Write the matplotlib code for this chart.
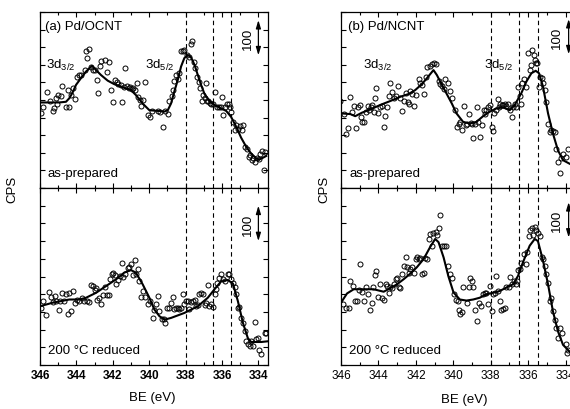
import matplotlib
matplotlib.use('Agg')
import matplotlib.pyplot as plt
from matplotlib.ticker import MultipleLocator

plt.rcParams['font.family'] = ['Liberation Sans', 'DejaVu Sans']
plt.rcParams['mathtext.fontset'] = 'custom'
plt.rcParams['mathtext.rm'] = 'Liberation Sans'
plt.rcParams['mathtext.it'] = 'Liberation Sans:italic'
plt.rcParams['mathtext.bf'] = 'Liberation Sans:bold'

### Pd 3d spectra, binding energy (eV) vs counts, open circles = raw data, line = fit

### (a) Pd/OCNT, as-prepared
ocnt_prep_be = [345.93, 345.82, 345.63, 345.45, 345.30, 345.21, 345.12, 345.01, 345.05, 344.86,
                344.77, 344.57, 344.42, 344.46, 344.32, 344.21, 344.10, 343.99, 343.88, 343.77,
                343.55, 343.47, 343.40, 343.29, 343.22, 343.07, 343.00, 342.89, 342.79, 342.70,
                342.63, 342.43, 342.30, 342.23, 342.12, 342.01, 341.90, 341.79, 341.71, 341.57,
                341.49, 341.40, 341.33, 341.24, 341.13, 341.05, 340.95, 340.87, 340.76, 340.69,
                340.62, 340.51, 340.43, 340.32, 340.23, 340.09, 339.96, 339.85,
                339.50, 339.39, 339.26, 339.13, 338.98, 338.89, 338.76, 338.69, 338.62, 338.54,
                338.43, 338.36, 338.25, 338.14, 338.07, 337.92, 337.84, 337.73, 337.64, 337.55,
                337.46, 337.37, 337.29, 337.20, 337.11, 337.04, 336.96, 336.89, 336.85, 336.76,
                336.67, 336.58, 336.49, 336.41, 336.30, 336.19, 336.08, 336.01, 335.94, 335.83,
                335.75, 335.64, 335.57, 335.50, 335.39, 335.31, 335.22, 335.13, 335.02, 334.91,
                334.84, 334.73, 334.63, 334.54, 334.45, 334.36, 334.27, 334.18, 334.08, 333.99,
                333.90, 333.81, 333.70, 333.62]
ocnt_prep_cps = [214, 231, 273, 248, 219, 227, 257, 263, 238, 261,
                 290, 229, 229, 277, 263, 285, 253, 316, 320, 322,
                 335, 389, 368, 395, 343, 335, 335, 307, 271, 347,
                 361, 364, 330, 359, 277, 243, 306, 301, 296, 292,
                 243, 288, 340, 290, 285, 286, 280, 284, 277, 298,
                 259, 251, 233, 250, 302, 207, 202, 219,
                 219, 217, 174, 219, 210, 248, 261, 278, 305, 321,
                 309, 328, 390, 388, 392, 378, 371, 409, 418, 359,
                 340, 316, 301, 283, 248, 263, 257, 299, 247, 248,
                 242, 240, 238, 274, 231, 231, 229, 259, 207, 231,
                 238, 240, 231, 217, 188, 164, 179, 169, 177, 164,
                 179, 117, 112, 88, 93, 79, 84, 73, 86, 83,
                 98, 105, 50, 102]
ocnt_prep_fit_be = [346.00, 345.49, 344.94, 344.57, 344.39, 344.21, 344.02, 343.75, 343.47, 343.14,
                    342.92, 342.65, 342.28, 341.92, 341.46, 341.00, 340.73, 340.36, 339.99, 339.53,
                    339.17, 338.98, 338.80, 338.62, 338.43, 338.25, 338.07, 337.88, 337.70, 337.51,
                    337.33, 337.15, 336.96, 336.69, 336.41, 336.05, 335.77, 335.50, 335.22, 334.95,
                    334.67, 334.40, 334.12, 333.94, 333.75, 333.57]
ocnt_prep_fit_cps = [243, 243, 243, 245, 255, 271, 293, 312, 331, 347,
                     335, 321, 305, 295, 286, 278, 264, 240, 221, 219,
                     217, 221, 240, 274, 307, 345, 369, 378, 371, 350,
                     321, 293, 267, 247, 236, 226, 219, 202, 174, 143,
                     117, 98, 84, 81, 86, 91]

### (a) Pd/OCNT, 200 C reduced
ocnt_red_be = [345.96, 345.82, 345.67, 345.49, 345.40, 345.30, 345.19, 345.12, 344.97, 344.90,
               344.79, 344.68, 344.57, 344.46, 344.32, 344.42, 344.21, 344.06, 343.95, 343.84,
               343.69, 343.56, 343.44, 343.29, 343.20, 343.11, 343.00, 342.92, 342.85, 342.74,
               342.67, 342.56, 342.45, 342.34, 342.23, 342.15, 342.04, 341.97, 341.90, 341.82,
               341.71, 341.60, 341.49, 341.42, 341.31, 341.16, 341.09, 340.98, 340.91, 340.80,
               340.73, 340.62, 340.54, 340.43, 340.36, 340.25, 340.07, 339.96, 339.77,
               339.72, 339.62, 339.53, 339.44, 339.31, 339.20, 339.13, 339.02, 338.89, 338.80,
               338.71, 338.62, 338.52, 338.43, 338.34, 338.25, 338.14, 338.07, 337.99, 337.88,
               337.79, 337.70, 337.61, 337.51, 337.42, 337.33, 337.24, 337.15, 337.06, 336.96,
               336.87, 336.78, 336.69, 336.60, 336.52, 336.41, 336.34, 336.27, 336.16, 336.05,
               335.94, 335.83, 335.68, 335.59, 335.50, 335.40, 335.31, 335.22, 335.13, 335.04,
               334.95, 334.85, 334.76, 334.67, 334.58, 334.47, 334.40, 334.30, 334.21, 334.12,
               334.03, 333.94, 333.84, 333.66, 333.57]
ocnt_red_cps = [160, 182, 140, 207, 192, 179, 195, 181, 154, 181,
                204, 181, 200, 143, 152, 204, 209, 176, 185, 181,
                190, 181, 181, 179, 226, 223, 211, 217, 185, 190,
                171, 197, 219, 197, 198, 242, 258, 261, 255, 230,
                239, 252, 287, 249, 257, 274, 277, 285, 255, 296,
                257, 270, 236, 192, 209, 192, 171, 181, 133,
                154, 171, 195, 152, 131, 131, 119, 162, 160, 176,
                192, 157, 162, 162, 157, 162, 201, 173, 181, 182,
                157, 179, 182, 185, 166, 169, 200, 204, 201, 169,
                176, 226, 166, 173, 163, 200, 214, 232, 245, 257,
                242, 236, 258, 258, 242, 233, 219, 201, 162, 163,
                133, 119, 95, 67, 59, 55, 67, 55, 122, 74,
                76, 43, 30, 90, 90]
ocnt_red_fit_be = [346.00, 345.30, 344.39, 343.84, 343.47, 342.92, 342.37, 341.82, 341.37, 341.00,
                   340.73, 340.36, 339.99, 339.72, 339.44, 339.17, 338.80, 338.07, 337.33, 336.78,
                   336.41, 336.05, 335.68, 335.40, 335.13, 334.85, 334.58, 334.40, 333.84, 333.48]
ocnt_red_fit_cps = [166, 176, 185, 185, 190, 204, 223, 242, 261, 268,
                    261, 228, 190, 157, 138, 128, 133, 147, 166, 190,
                    214, 236, 240, 230, 181, 119, 76, 65, 65, 67]

### (b) Pd/NCNT, as-prepared
ncnt_prep_be = [346.07, 345.82, 345.72, 345.61, 345.50, 345.40, 345.29, 345.22, 345.11, 345.00,
                344.93, 344.86, 344.76, 344.68, 344.58, 344.51, 344.40, 344.33, 344.26, 344.19,
                344.12, 344.01, 343.90, 343.80, 343.72, 343.65, 343.55, 343.44, 343.37, 343.26,
                343.16, 343.05, 342.94, 342.84, 342.73, 342.66, 342.55, 342.44, 342.37, 342.30,
                342.20, 342.09, 341.98, 341.86, 341.77, 341.66, 341.56, 341.48, 341.38, 341.24,
                341.13, 341.02, 340.92, 340.79, 340.70, 340.60, 340.49, 340.42, 340.31, 340.20,
                340.08, 339.92,
                339.80, 339.69, 339.62, 339.51, 339.44, 339.33, 339.26, 339.16, 339.08, 339.01,
                338.94, 338.85, 338.76, 338.68, 338.55, 338.45, 338.37, 338.30, 338.23, 338.14,
                338.05, 337.96, 337.88, 337.81, 337.70, 337.61, 337.56, 337.49, 337.41, 337.34,
                337.25, 337.16, 337.08, 336.99, 336.88, 336.81, 336.70, 336.63, 336.54, 336.45,
                336.36, 336.31, 336.24, 336.13, 336.03, 335.92, 335.83, 335.78, 335.71, 335.64,
                335.60, 335.53, 335.42, 335.35, 335.28, 335.21, 335.12, 335.03, 334.94, 334.85,
                334.76, 334.70, 334.59, 334.50, 334.39, 334.32, 334.23, 334.14, 333.96, 333.86]
ncnt_prep_cps = [248, 210, 153, 170, 259, 216, 234, 171, 231, 237,
                 202, 188, 188, 216, 233, 221, 229, 236, 216, 255,
                 283, 214, 231, 233, 174, 204, 231, 261, 299, 274,
                 255, 261, 290, 255, 219, 248, 271, 244, 240, 276,
                 267, 233, 264, 309, 299, 292, 267, 316, 343, 347,
                 352, 356, 352, 305, 295, 290, 282, 311, 299, 276,
                 257, 223,
                 174, 181, 188, 166, 233, 179, 181, 210, 185, 183,
                 141, 183, 231, 188, 145, 179, 221, 210, 221, 231,
                 236, 172, 162, 214, 221, 252, 229, 240, 236, 236,
                 240, 233, 240, 223, 202, 231, 240, 231, 288, 261,
                 240, 299, 309, 286, 383, 335, 350, 392, 378, 364,
                 354, 354, 286, 316, 312, 299, 278, 245, 183, 160,
                 164, 162, 160, 112, 74, 43, 84, 96, 88, 112]
ncnt_prep_fit_be = [346.00, 345.50, 345.24, 344.88, 344.44, 343.90, 343.37, 342.84, 342.39, 342.04,
                    341.68, 341.41, 341.06, 340.88, 340.61, 340.35, 340.08, 339.83, 339.48, 339.12,
                    338.76, 338.41, 338.05, 337.70, 337.34, 336.99, 336.72, 336.37, 336.10, 335.83,
                    335.60, 335.42, 335.21, 334.94, 334.68, 334.41, 334.14, 333.79]
ncnt_prep_fit_cps = [212, 210, 204, 214, 223, 236, 247, 259, 267, 278,
                     295, 312, 335, 321, 293, 267, 240, 212, 188, 183,
                     188, 204, 217, 226, 229, 221, 236, 269, 302, 326,
                     333, 326, 288, 212, 155, 107, 79, 69]

### (b) Pd/NCNT, 200 C reduced
ncnt_red_be = [345.89, 345.72, 345.59, 345.50, 345.36, 345.24, 345.15, 345.04, 344.97, 344.88,
               344.79, 344.68, 344.58, 344.47, 344.36, 344.29, 344.19, 344.12, 344.01, 343.90,
               343.80, 343.72, 343.62, 343.55, 343.46, 343.37, 343.26, 343.16, 343.08, 343.01,
               342.91, 342.84, 342.73, 342.66, 342.55, 342.48, 342.39, 342.30, 342.20, 342.12,
               342.02, 341.95, 341.86, 341.77, 341.68, 341.59, 341.50, 341.41, 341.31, 341.24,
               341.15, 341.06, 340.95, 340.88, 340.79, 340.70, 340.60, 340.49, 340.38, 340.28,
               340.17, 340.06, 339.96, 339.85,
               339.74, 339.69, 339.62, 339.51, 339.48, 339.26, 339.16, 339.09, 339.01, 338.94,
               338.85, 338.73, 338.62, 338.50, 338.41, 338.32, 338.23, 338.14, 338.05, 337.96,
               337.88, 337.79, 337.70, 337.61, 337.52, 337.43, 337.34, 337.25, 337.16, 337.02,
               336.95, 336.84, 336.77, 336.67, 336.60, 336.54, 336.45, 336.36, 336.24, 336.13,
               336.06, 335.96, 335.88, 335.81, 335.74, 335.65, 335.56, 335.48, 335.39, 335.28,
               335.21, 335.12, 335.03, 334.94, 334.85, 334.76, 334.70, 334.59, 334.50, 334.41,
               334.32, 334.18, 334.00, 333.93, 333.86]
ncnt_red_cps = [171, 160, 160, 236, 223, 181, 182, 211, 285, 207,
                181, 219, 201, 154, 176, 220, 255, 266, 192, 230,
                188, 185, 228, 223, 204, 219, 217, 228, 242, 245,
                219, 217, 257, 280, 306, 276, 261, 271, 276, 261,
                299, 304, 299, 302, 257, 261, 302, 299, 356, 371,
                337, 372, 375, 366, 388, 423, 337, 337, 337, 280,
                257, 247, 200, 185,
                181, 154, 143, 150, 219, 176, 219, 247, 236, 219,
                154, 124, 176, 166, 201, 204, 204, 171, 223, 152,
                201, 204, 252, 209, 181, 154, 157, 162, 220, 220,
                249, 228, 238, 228, 238, 268, 271, 287, 314, 285,
                318, 363, 380, 388, 366, 390, 380, 372, 363, 306,
                299, 280, 257, 233, 181, 190, 152, 128, 105, 76,
                105, 90, 59, 33, 43]
ncnt_red_fit_be = [346.00, 345.68, 345.32, 344.79, 344.26, 343.72, 343.37, 343.01, 342.66, 342.30,
                   341.95, 341.59, 341.24, 340.97, 340.79, 340.52, 340.26, 339.99, 339.65, 339.30,
                   338.94, 338.59, 338.23, 337.88, 337.52, 337.16, 336.81, 336.54, 336.28, 335.92,
                   335.65, 335.48, 335.21, 334.94, 334.68, 334.41, 334.14, 333.79]
ncnt_red_fit_cps = [176, 202, 214, 214, 214, 207, 217, 228, 242, 258,
                    276, 299, 333, 356, 347, 304, 250, 205, 185, 182,
                    185, 190, 200, 204, 209, 219, 228, 252, 290, 337,
                    356, 350, 295, 228, 152, 95, 57, 38]

ref_lines = [338.0, 336.5, 335.5]   ### reference binding energies (dashed)
bar_cps = 100                        ### length of the intensity scale bar
fs = 9.5


def setup(ax, bottom, bold):
    ax.set_xlim(346, 333.5)
    ax.set_ylim(0, 500)
    ax.xaxis.set_major_locator(MultipleLocator(2))
    ax.xaxis.set_minor_locator(MultipleLocator(1))
    ax.yaxis.set_major_locator(MultipleLocator(50))
    ax.tick_params(which='both', direction='in', top=True, right=True, width=0.8,
                   labelleft=False, labelbottom=bottom, pad=3)
    ax.tick_params(which='major', length=3.5)
    ax.tick_params(which='minor', length=2.5)
    for s in ax.spines.values():
        s.set_linewidth(0.9)
    if bottom:
        for lab in ax.get_xticklabels():
            lab.set_fontsize(8.5)
            lab.set_fontweight('bold' if bold else 'normal')


def draw(ax, be, cps, fit_be, fit_cps, bar_x, bar_y0):
    for e in ref_lines:
        ax.axvline(e, color='k', lw=0.8, dashes=(4, 3), zorder=1)
    ax.plot(be, cps, 'o', ms=3.6, mfc='none', mec='k', mew=0.7, zorder=2)
    ax.plot(fit_be, fit_cps, '-', color='k', lw=1.5, zorder=3)
    ax.annotate('', xy=(bar_x, bar_y0 + bar_cps), xytext=(bar_x, bar_y0),
                arrowprops=dict(arrowstyle='<|-|>,head_length=0.6,head_width=0.18',
                                color='k', lw=0.9, shrinkA=0, shrinkB=0, mutation_scale=8),
                annotation_clip=False)
    ax.text(bar_x + 0.6, bar_y0 + bar_cps / 2, '100', rotation=90,
            ha='center', va='center', fontsize=fs)


fig = plt.figure(figsize=(5.7, 4.1), dpi=100)

### left column: Pd/OCNT
ax1 = fig.add_axes([40 / 570, 221 / 410, 227.5 / 570, 176 / 410])
ax2 = fig.add_axes([40 / 570, 44 / 410, 227.5 / 570, 177 / 410])
### right column: Pd/NCNT
ax3 = fig.add_axes([341 / 570, 221 / 410, 234 / 570, 176 / 410])
ax4 = fig.add_axes([341 / 570, 44 / 410, 234 / 570, 177 / 410])

draw(ax1, ocnt_prep_be, ocnt_prep_cps, ocnt_prep_fit_be, ocnt_prep_fit_cps, 334.0, 377)
draw(ax2, ocnt_red_be, ocnt_red_cps, ocnt_red_fit_be, ocnt_red_fit_cps, 334.0, 350)
draw(ax3, ncnt_prep_be, ncnt_prep_cps, ncnt_prep_fit_be, ncnt_prep_fit_cps, 333.84, 380)
draw(ax4, ncnt_red_be, ncnt_red_cps, ncnt_red_fit_be, ncnt_red_fit_cps, 333.84, 360)

setup(ax1, False, True)
setup(ax2, True, True)
setup(ax3, False, False)
setup(ax4, True, False)

ax1.text(0.022, 0.92, '(a) Pd/OCNT', transform=ax1.transAxes, fontsize=fs, va='center')
ax3.text(0.03, 0.92, '(b) Pd/NCNT', transform=ax3.transAxes, fontsize=fs, va='center')
ax1.text(0.026, 0.70, '3d$_{3/2}$', transform=ax1.transAxes, fontsize=fs, va='center')
ax1.text(0.46, 0.70, '3d$_{5/2}$', transform=ax1.transAxes, fontsize=fs, va='center')
ax3.text(0.094, 0.70, '3d$_{3/2}$', transform=ax3.transAxes, fontsize=fs, va='center')
ax3.text(0.61, 0.70, '3d$_{5/2}$', transform=ax3.transAxes, fontsize=fs, va='center')
for ax in (ax1, ax3):
    ax.text(0.035, 0.085, 'as-prepared', transform=ax.transAxes, fontsize=fs, va='center')
for ax in (ax2, ax4):
    ax.text(0.035, 0.085, '200 \u00b0C reduced', transform=ax.transAxes, fontsize=fs, va='center')

fig.text(12 / 570, 1 - 189 / 410, 'CPS', rotation=90, ha='center', va='center', fontsize=fs)
fig.text(324 / 570, 1 - 189 / 410, 'CPS', rotation=90, ha='center', va='center', fontsize=fs)
fig.text(152 / 570, 1 - 398 / 410, 'BE (eV)', ha='center', va='center', fontsize=fs)
fig.text(464 / 570, 1 - 400 / 410, 'BE (eV)', ha='center', va='center', fontsize=fs)

fig.savefig('out.png', dpi=100)
